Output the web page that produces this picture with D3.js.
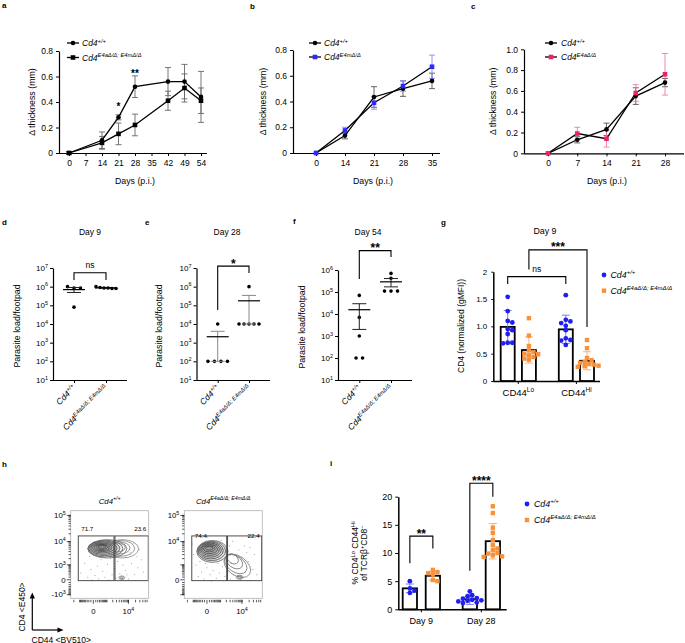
<!DOCTYPE html>
<html><head><meta charset="utf-8">
<script src="https://cdn.jsdelivr.net/npm/d3@7"></script>
<style>body{margin:0;background:#fff}</style>
</head><body>
<svg id="fig" width="685" height="643"></svg>
<script>
// ================= DATA =================
// Panel a
const aDays = ["0","7","14","21","28","35","42","49","54"];
const aMeasuredDays = ["0","14","21","28","42","49","54"];
const aWT = [0, 0.10, 0.28, 0.52, 0.56, 0.56, 0.44];
const aWTErr = [0.01, 0.065, 0.02, 0.085, 0.11, 0.135, 0.20];
const aKO = [0, 0.08, 0.15, 0.22, 0.41, 0.51, 0.41];
const aKOErr = [0.01, 0.05, 0.085, 0.085, 0.075, 0.11, 0.10];
const aYTicks = [0, 0.2, 0.4, 0.6, 0.8];
const aSig = [["21", 0.337, "*"], ["28", 0.60, "**"]];
// Panel b
const bDays = ["0","14","21","28","35"];
const bWT = [0, 0.135, 0.435, 0.50, 0.56];
const bWTErr = [0, 0.025, 0.08, 0.06, 0.06];
const bKO = [0, 0.175, 0.39, 0.52, 0.67];
const bKOErr = [0, 0.025, 0.05, 0.04, 0.09];
const bYTicks = [0, 0.2, 0.4, 0.6, 0.8];
// Panel c
const cDays = ["0","7","14","21","28"];
const cWT = [0, 0.13, 0.23, 0.55, 0.68];
const cWTErr = [0, 0.03, 0.06, 0.08, 0.04];
const cKO = [0, 0.19, 0.14, 0.58, 0.76];
const cKOErr = [0, 0.06, 0.08, 0.08, 0.20];
const cYTicks = [0, 0.2, 0.4, 0.6, 0.8, 1.0];
// Panels d-f (parasite load per footpad)
const dotGroups = ["WT", "KO"];
const dWT = [1.0e6, 8.5e5, 8.5e5, 8e4];
const dKO = [9e5, 8.5e5, 1.0e6, 8e5, 8.5e5, 8e5];
const dMean = [6.95e5, 8.67e5];
const dSem = [2.08e5, 3.3e4];
const eWT = [1e4, 1e2, 1e2, 1e2, 1e2];
const eKO = [1e6, 1e4, 1e4, 1e4, 1e4, 1e4];
const eMean = [2080, 175000];
const eSem = [1980, 165000];
const fWT = [7e4, 7e3, 1e3, 1e2, 1e2];
const fKO = [7e5, 4.2e5, 1.1e5, 1.1e5, 1.1e5];
const fMean = [15640, 290000];
const fSem = [13650, 118800];
const dYExp = [1,2,3,4,5,6,7];
const fYExp = [1,2,3,4,5,6];
// Panel g
const gGroups = ["CD44Lo", "CD44Hi"];
const gWTLo = [1.54, 1.28, 1.10, 1.07, 0.95, 0.93, 0.86, 0.70, 0.70, 0.69];
const gKOLo = [1.15, 0.83, 0.64, 0.56, 0.53, 0.50, 0.49, 0.47, 0.44, 0.41, 0.39];
const gWTHi = [1.57, 1.12, 1.09, 1.06, 1.01, 0.93, 0.78, 0.75, 0.74, 0.66];
const gKOHi = [0.75, 0.60, 0.42, 0.38, 0.35, 0.33, 0.31, 0.30, 0.28, 0.27, 0.26];
const gWTMean = [0.99, 0.945];
const gKOMean = [0.567, 0.37];
const gWTErr = [0.30, 0.26];
const gKOErr = [0.24, 0.165];
const gYTicks = [0, 0.5, 1, 1.5, 2];
const gYLabels = ["0", "0.5", "1.0", "1.5", "2"];
// Panel i
const iGroups = ["Day 9", "Day 28"];
const iWT9 = [5.0, 3.7, 3.3, 2.9];
const iKO9 = [7.0, 6.6, 6.4, 6.2, 5.2, 5.0];
const iWT28 = [3.2, 2.5, 2.3, 2.0, 1.9, 1.7, 1.6, 1.5, 1.4, 1.2, 1.1];
const iKO28 = [18.3, 17.1, 14.5, 13.6, 12.3, 11.4, 10.8, 10.5, 10.0, 9.9, 9.6, 9.4, 9.3];
const iWTMean = [3.72, 1.77];
const iKOMean = [5.96, 12.1];
const iWTErr = [0.77, 0.9];
const iKOErr = [0.8, 3.15];
const iYTicks = [0, 5, 10, 15, 20];
// Panel h (flow cytometry)
const hXDomain = [-2823, 69900];
const hYDomain = [-1508, 150700];
const hXMajor = [0, 1e4];
const hXLabels = [[["0"]], [["10"],["4","s"]]];
const hYMajorWT = [-1e3, 0, 1e3, 1e4, 1e5];
const hYLabelsWT = [[["-10"],["3","s"]], [["0"]], [["10"],["3","s"]], [["10"],["4","s"]], [["10"],["5","s"]]];
const hYMajorKO = [0, 1e4, 1e5];
const hYLabelsKO = [[["0"]], [["10"],["4","s"]], [["10"],["5","s"]]];
const hGatesWT = [[-1190, 2290, -30, 16600], [2550, 67000, -30, 16600]];
const hGatesKO = [[-1200, 2080, -30, 16600], [2285, 65800, -30, 16600]];
const hFreqWT = ["71.7", "23.6"];
const hFreqKO = ["74.4", "22.4"];
// contour levels in display-channel units (0-1): [cx, cy, rx, ry, angle, density]
const hContoursWT = [
  [0.40,0.585,0.05,0.015,0,1],[0.40,0.583,0.075,0.025,0,0.95],[0.40,0.58,0.10,0.035,0,0.9],
  [0.405,0.578,0.125,0.045,0,0.85],[0.41,0.575,0.15,0.057,0,0.8],[0.42,0.572,0.175,0.07,0,0.75],
  [0.43,0.57,0.20,0.083,0,0.7],[0.445,0.567,0.225,0.095,0,0.65],[0.47,0.565,0.25,0.105,0,0.55],
  [0.60,0.58,0.10,0.05,0,0.45],[0.62,0.575,0.14,0.07,0,0.4],[0.64,0.57,0.18,0.09,0,0.35],
  [0.66,0.565,0.21,0.105,0,0.3],[0.655,0.235,0.02,0.01,0,0.5],[0.655,0.235,0.038,0.02,0,0.4]
];
const hContoursKO = [
  [0.32,0.57,0.05,0.02,0,1],[0.32,0.565,0.075,0.035,0,0.95],[0.325,0.56,0.10,0.05,0,0.9],
  [0.33,0.555,0.12,0.065,0,0.85],[0.335,0.55,0.14,0.08,0,0.8],[0.34,0.545,0.16,0.095,0,0.75],
  [0.35,0.54,0.18,0.11,0,0.7],[0.36,0.535,0.20,0.125,0,0.6],
  [0.62,0.45,0.08,0.05,35,0.45],[0.64,0.42,0.12,0.07,35,0.4],[0.66,0.39,0.16,0.09,35,0.35],
  [0.68,0.37,0.19,0.11,35,0.3],[0.71,0.24,0.025,0.012,0,0.5],[0.71,0.24,0.045,0.022,0,0.4]
];
const hEventsWT = [[0.22,0.24],[0.27,0.21],[0.31,0.26],[0.36,0.22],[0.44,0.24],[0.49,0.21],[0.53,0.27],[0.26,0.33],[0.34,0.37],[0.41,0.31],[0.47,0.39],[0.56,0.34],[0.60,0.42],[0.63,0.28],[0.70,0.32],[0.74,0.22],[0.78,0.40],[0.82,0.27],[0.86,0.35],[0.91,0.44],[0.70,0.47],[0.76,0.52],[0.88,0.56],[0.18,0.40],[0.13,0.29],[0.58,0.23],[0.67,0.38],[0.81,0.63],[0.93,0.30],[0.39,0.44],[0.51,0.46],[0.24,0.48],[0.72,0.27],[0.85,0.48]];
const hEventsKO = [[0.18,0.25],[0.22,0.30],[0.25,0.22],[0.29,0.35],[0.33,0.27],[0.37,0.32],[0.41,0.23],[0.45,0.29],[0.49,0.36],[0.52,0.25],[0.15,0.38],[0.20,0.42],[0.27,0.40],[0.43,0.40],[0.56,0.31],[0.59,0.22],[0.63,0.27],[0.66,0.50],[0.70,0.55],[0.74,0.47],[0.78,0.30],[0.82,0.42],[0.85,0.20],[0.88,0.33],[0.90,0.50],[0.77,0.60],[0.84,0.58],[0.58,0.60],[0.62,0.65],[0.12,0.50],[0.10,0.62],[0.47,0.66],[0.54,0.70],[0.30,0.70],[0.72,0.21],[0.93,0.27],[0.35,0.20],[0.60,0.40],[0.80,0.52],[0.68,0.26]];

// labels
const L_WT = [["Cd4","i"],["+/+","si"]];
const L_KO_AM = [["Cd4","i"],["E4aΔ/Δ; E4mΔ/Δ","si"]];
const L_KO_M = [["Cd4","i"],["E4mΔ/Δ","si"]];
const L_KO_A = [["Cd4","i"],["E4aΔ/Δ","si"]];

// ================= DRAWING =================
const FF = '"Liberation Sans", Arial, Helvetica, sans-serif';
const svg = d3.select('#fig').attr('font-family', FF);
const BLUE = '#1f1ff2', BLUE_ERR = '#7c7cf2', ORANGE = '#f7913a', ORANGE_ERR = '#f6b27c';
const PINK = '#f0206c', PINK_ERR = '#f27aa6', BBLUE = '#2a2aff', BBLUE_ERR = '#8686ff';

function rich(t, parts, fs) {
  t.attr('font-size', fs).attr('fill', '#000');
  let shift = 0;
  parts.forEach(p => {
    const txt = p[0], f = p[1] || '';
    const sup = f.includes('s');
    const target = sup ? -fs * 0.4 : 0;
    const ts = t.append('tspan').attr('dy', (target - shift).toFixed(2)).text(txt);
    shift = target;
    if (sup) ts.attr('font-size', (fs * 0.68).toFixed(2));
    if (f.includes('i')) ts.attr('font-style', 'italic');
  });
  return t;
}
function text(g, x, y, parts, fs, anchor) {
  return rich(g.append('text').attr('x', x).attr('y', y).attr('text-anchor', anchor || 'start'), parts, fs);
}
function vtext(g, x, y, parts, fs) {
  return rich(g.append('text').attr('transform', `translate(${x},${y}) rotate(-90)`).attr('text-anchor', 'middle'), parts, fs);
}
function styleAxis(sel, fs, w) {
  sel.attr('font-family', FF).attr('font-size', fs || 8);
  sel.select('.domain').attr('stroke', '#000').attr('stroke-width', w || 1.2);
  sel.selectAll('.tick line').attr('stroke', '#000').attr('stroke-width', 1);
  sel.selectAll('.tick text').attr('fill', '#000');
}
function marker(g, shape, x, y, size, fill) {
  if (shape === 'circle') g.append('circle').attr('cx', x).attr('cy', y).attr('r', size / 2).attr('fill', fill);
  else g.append('rect').attr('x', x - size / 2).attr('y', y - size / 2).attr('width', size).attr('height', size).attr('fill', fill);
}
function sigText(g, x, yTop, label, fsStar) {
  if (label === 'ns') text(g, x, yTop - 5, [["ns"]], 8.5, 'middle');
  else text(g, x, yTop + 1.5, [[label]], fsStar || 12, 'middle').attr('font-weight', 'bold');
}
function bracket(g, x1, x2, yTop, yL, yR, label, fsStar) {
  g.append('path').attr('d', `M${x1},${yL}V${yTop}H${x2}V${yR}`).attr('fill', 'none').attr('stroke', '#000').attr('stroke-width', 1.1);
  sigText(g, (x1 + x2) / 2, yTop, label, fsStar);
}

// panel letters
[["a",2,8],["b",250,9],["c",471,9],["d",2,225],["e",145,225],["f",293,224],["g",441,225],["h",2,467],["i",330,466]]
  .forEach(([l, x, y]) => svg.append('text').attr('x', x).attr('y', y).attr('font-size', 8).attr('font-weight', 'bold').text(l));

// ---------- line charts ----------
function lineChart(c) {
  const g = svg.append('g');
  const x = d3.scalePoint().domain(c.cats).range(c.xr);
  const y = d3.scaleLinear().domain(c.yd).range(c.yr);
  const ya = g.append('g').attr('transform', `translate(${c.ax},0)`)
    .call(d3.axisLeft(y).tickValues(c.yt).tickFormat(d => d === 0 ? '0' : d.toFixed(1)).tickSize(3).tickSizeOuter(0).tickPadding(3));
  styleAxis(ya, 8.5);
  const xa = g.append('g').attr('transform', `translate(0,${c.yr[0]})`)
    .call(d3.axisBottom(x).tickSize(3).tickSizeOuter(0).tickPadding(4));
  styleAxis(xa, 8.5);
  xa.select('.domain').attr('d', `M${c.ax},0.5H${c.xe}`);
  vtext(g, c.ylx, (c.yr[0] + c.yr[1]) / 2, [["Δ thickness (mm)"]], 8.8);
  text(g, c.xlx, 183.5, [["Days (p.i.)"]], 8.8, 'middle');
  const pts = c.series.map(s => s.cats.map((k, i) => ({ x: x(k), y: y(s.v[i]), lo: y(s.v[i] - s.e[i]), hi: y(s.v[i] + s.e[i]) })));
  c.series.forEach((s, si) => {
    pts[si].forEach(p => {
      if (p.lo - p.hi < 0.8) return;
      g.append('path').attr('d', `M${p.x},${p.lo}V${p.hi}M${p.x - 3},${p.lo}h6M${p.x - 3},${p.hi}h6`)
        .attr('stroke', s.ec).attr('stroke-width', 0.9).attr('fill', 'none');
    });
  });
  c.series.forEach((s, si) => {
    g.append('path').datum(pts[si]).attr('d', d3.line().x(d => d.x).y(d => d.y))
      .attr('fill', 'none').attr('stroke', s.lc).attr('stroke-width', 1.3);
  });
  c.series.forEach((s, si) => pts[si].forEach(p => marker(g, s.shape, p.x, p.y, 4.6, s.mc)));
  c.series.forEach((s, si) => {
    const ly = c.leg.y[si];
    g.append('line').attr('x1', c.leg.x0).attr('x2', c.leg.x1).attr('y1', ly).attr('y2', ly).attr('stroke', s.lc).attr('stroke-width', 1.3);
    marker(g, s.shape, (c.leg.x0 + c.leg.x1) / 2, ly, 4.6, s.mc);
    text(g, c.leg.tx, ly + 3, s.label, 8.5);
  });
  (c.sig || []).forEach(([k, v, l]) => text(g, x(k), y(v), [[l]], 10, 'middle').attr('font-weight', 'bold'));
}

lineChart({
  cats: aDays, xr: [69, 201], ax: 59, xe: 207, yd: [0, 0.8], yr: [153, 51], yt: aYTicks, ylx: 35, xlx: 135,
  series: [
    { cats: aMeasuredDays, v: aWT, e: aWTErr, shape: 'circle', mc: '#000', lc: '#000', ec: '#666', label: L_WT },
    { cats: aMeasuredDays, v: aKO, e: aKOErr, shape: 'square', mc: '#000', lc: '#000', ec: '#666', label: L_KO_AM }
  ],
  leg: { x0: 67, x1: 79, tx: 82, y: [43, 57.5] }, sig: aSig
});
lineChart({
  cats: bDays, xr: [316, 432], ax: 293, xe: 440, yd: [0, 0.8], yr: [153, 50], yt: bYTicks, ylx: 266, xlx: 373,
  series: [
    { cats: bDays, v: bWT, e: bWTErr, shape: 'circle', mc: '#000', lc: '#000', ec: '#555', label: L_WT },
    { cats: bDays, v: bKO, e: bKOErr, shape: 'square', mc: BBLUE, lc: '#000', ec: BBLUE_ERR, label: L_KO_M }
  ],
  leg: { x0: 309, x1: 321, tx: 324, y: [43, 57] }
});
lineChart({
  cats: cDays, xr: [548, 665], ax: 524, xe: 684, yd: [0, 1.0], yr: [153.3, 49.3], yt: cYTicks, ylx: 496, xlx: 607,
  series: [
    { cats: cDays, v: cWT, e: cWTErr, shape: 'circle', mc: '#000', lc: '#000', ec: '#555', label: L_WT },
    { cats: cDays, v: cKO, e: cKOErr, shape: 'square', mc: PINK, lc: '#000', ec: PINK_ERR, label: L_KO_A }
  ],
  leg: { x0: 545, x1: 557, tx: 561, y: [43, 57] }
});

// ---------- log dot plots ----------
function clusterSpread(vals, yScale, cx, spacing, maxW) {
  const pts = vals.map((v, i) => ({ v, i, y: yScale(v) }));
  const sorted = [...pts].sort((a, b) => a.y - b.y || a.i - b.i);
  const groups = []; let cur = [];
  sorted.forEach(p => { if (cur.length && p.y - cur[cur.length - 1].y > 3.5) { groups.push(cur); cur = []; } cur.push(p); });
  if (cur.length) groups.push(cur);
  groups.forEach(gr => { const n = gr.length; const s = n > 1 ? Math.min(spacing, maxW / (n - 1)) : 0; gr.forEach((p, j) => p.x = cx + (j - (n - 1) / 2) * s); });
  return pts;
}
function logDots(c) {
  const g = svg.append('g');
  const x = d3.scalePoint().domain(dotGroups).range(c.xr);
  const y = d3.scaleLog().domain(c.yd).range(c.yr);
  const yt = c.exps.map(e => Math.pow(10, e));
  const ya = g.append('g').attr('transform', `translate(${c.ax},0)`)
    .call(d3.axisLeft(y).tickValues(yt).tickFormat(() => '').tickSize(3).tickSizeOuter(0));
  styleAxis(ya, 8);
  yt.forEach((v, i) => text(g, c.ax - 5, y(v) + 2.9, [["10"], [String(c.exps[i]), "s"]], 8, 'end'));
  const xa = g.append('g').attr('transform', `translate(0,${c.yr[0]})`)
    .call(d3.axisBottom(x).tickSize(3).tickSizeOuter(0).tickFormat(() => ''));
  styleAxis(xa, 8);
  xa.select('.domain').attr('d', `M${c.ax},0.5H${c.xe}`);
  vtext(g, c.ylx, (c.yr[0] + c.yr[1]) / 2 + 2, [["Parasite load/footpad"]], 8.8);
  text(g, c.tx, 235, [[c.title]], 8.5, 'middle');
  [L_WT, L_KO_AM].forEach((lab, i) => {
    rich(g.append('text').attr('text-anchor', 'end').attr('transform', `translate(${x(dotGroups[i]) + 2.5},${c.yr[0] + 8.5}) rotate(-45)`), lab, 8.5);
  });
  [c.wt, c.ko].forEach((vals, i) => {
    const cx = x(dotGroups[i]);
    clusterSpread(vals, y, cx, 6.5, 20).forEach(p => g.append('circle').attr('cx', p.x).attr('cy', p.y).attr('r', 1.8).attr('fill', '#000'));
    const m = y(c.mean[i]), hi = y(c.mean[i] + c.sem[i]), lo = y(c.mean[i] - c.sem[i]);
    g.append('path').attr('d', `M${cx},${lo}V${hi}M${cx - 7},${hi}h14M${cx - 7},${lo}h14`).attr('stroke', c.ec).attr('stroke-width', 1).attr('fill', 'none');
    g.append('line').attr('x1', cx - 11).attr('x2', cx + 11).attr('y1', m).attr('y2', m).attr('stroke', '#000').attr('stroke-width', 1.2);
  });
  const b = c.br;
  bracket(g, x("WT"), x("KO"), y(b[0]), y(b[1]), y(b[2]), c.sig);
}
logDots({ ax: 53, xe: 127, xr: [74, 106], yd: [10, 1e7], yr: [380, 268], exps: dYExp, wt: dWT, ko: dKO, mean: dMean, sem: dSem,
  ec: '#222', ylx: 19.5, tx: 90, title: 'Day 9', br: [5.6e6, 2.3e6, 2.3e6], sig: 'ns' });
logDots({ ax: 196.5, xe: 270, xr: [217.7, 249], yd: [10, 1e7], yr: [380, 268], exps: dYExp, wt: eWT, ko: eKO, mean: eMean, sem: eSem,
  ec: '#888', ylx: 162, tx: 227, title: 'Day 28', br: [1.26e7, 5.6e4, 5.4e6], sig: '*' });
logDots({ ax: 338, xe: 412, xr: [359.3, 391], yd: [10, 1e6], yr: [380, 270], exps: fYExp, wt: fWT, ko: fKO, mean: fMean, sem: fSem,
  ec: '#222', ylx: 304.5, tx: 368, title: 'Day 54', br: [7.6e6, 3.9e5, 3.9e6], sig: '**' });

// ---------- bar charts ----------
function swarm(vals, yScale, cx, d) {
  const pts = vals.map(v => ({ v, y: yScale(v) })).sort((a, b) => a.y - b.y);
  const placed = [];
  const offs = [0]; for (let k = 1; k < 30; k++) offs.push(k * d * 0.5, -k * d * 0.5);
  pts.forEach(p => {
    for (const o of offs) { if (placed.every(q => (q.x - o) ** 2 + (q.y - p.y) ** 2 >= d * d * 0.8)) { p.x = o; break; } }
    if (p.x === undefined) p.x = 0;
    placed.push(p);
  });
  return pts.map(p => ({ x: cx + p.x, y: p.y }));
}
function barChart(c) {
  const g = svg.append('g');
  const x0 = d3.scaleBand().domain(c.groups).range(c.xr).paddingInner(c.p0);
  const x1 = d3.scaleBand().domain(["WT", "KO"]).range([0, x0.bandwidth()]).paddingInner(c.p1);
  const y = d3.scaleLinear().domain(c.yd).range(c.yr);
  const ya = g.append('g').attr('transform', `translate(${c.ax},0)`)
    .call(d3.axisLeft(y).tickValues(c.yt).tickFormat((d, i) => c.yl[i]).tickSize(c.ts).tickSizeOuter(0).tickPadding(c.tp));
  styleAxis(ya, c.tfs, 1.5);
  const xa = g.append('g').attr('transform', `translate(0,${c.yr[0]})`)
    .call(d3.axisBottom(x0).tickSize(3).tickSizeOuter(0).tickFormat(() => ''));
  styleAxis(xa, 8, 1.5);
  xa.select('.domain').attr('d', `M${c.ax},0.5H${c.xe}`);
  c.groups.forEach((gr, i) => text(g, x0(gr) + x0.bandwidth() / 2, c.yr[0] + 14.5, c.glab[i], c.gfs, 'middle'));
  const ser = [
    { k: "WT", mean: c.wtMean, err: c.wtErr, pts: c.wtPts, col: BLUE, ecol: BLUE_ERR, shape: 'circle' },
    { k: "KO", mean: c.koMean, err: c.koErr, pts: c.koPts, col: ORANGE, ecol: ORANGE_ERR, shape: 'square' }
  ];
  const bw = x1.bandwidth();
  const bc = (gr, k) => x0(gr) + x1(k) + bw / 2;
  ser.forEach(s => c.groups.forEach((gr, i) => {
    g.append('rect').attr('x', x0(gr) + x1(s.k)).attr('y', y(s.mean[i])).attr('width', bw).attr('height', y(0) - y(s.mean[i]))
      .attr('fill', '#fff').attr('stroke', '#000').attr('stroke-width', 1.8);
  }));
  ser.forEach(s => c.groups.forEach((gr, i) => {
    const cx = bc(gr, s.k), hi = y(s.mean[i] + s.err[i]), lo = y(s.mean[i] - s.err[i]);
    g.append('path').attr('d', `M${cx},${lo}V${hi}M${cx - 4},${hi}h8M${cx - 4},${lo}h8`).attr('stroke', s.ecol).attr('stroke-width', 1).attr('fill', 'none');
  }));
  ser.forEach(s => c.groups.forEach((gr, i) => {
    swarm(s.pts[i], y, bc(gr, s.k), 4.6).forEach(p => marker(g, s.shape, p.x, p.y, s.shape === 'circle' ? 4.8 : 4.4, s.col));
  }));
  c.brackets.forEach(b => bracket(g, bc(c.groups[b[0]], b[1]), bc(c.groups[b[2]], b[3]), y(b[4]), y(b[5]), y(b[6]), b[7]));
  marker(g, 'circle', c.leg.x, c.leg.y[0], 4.8, BLUE);
  text(g, c.leg.tx, c.leg.y[0] + 3, L_WT, 8.8);
  marker(g, 'square', c.leg.x, c.leg.y[1], 4.4, ORANGE);
  text(g, c.leg.tx, c.leg.y[1] + 3, L_KO_AM, 8.8);
  return { g, y };
}
const gc = barChart({
  groups: gGroups, xr: [500.7, 594], p0: 0.394, p1: 0.34, yd: [0, 2], yr: [381, 271.7], ax: 493.3, xe: 600,
  yt: gYTicks, yl: gYLabels, ts: 2, tp: 4, tfs: 8, gfs: 9.5,
  glab: [[["CD44"], ["Lo", "s"]], [["CD44"], ["Hi", "s"]]],
  wtMean: gWTMean, wtErr: gWTErr, wtPts: [gWTLo, gWTHi], koMean: gKOMean, koErr: gKOErr, koPts: [gKOLo, gKOHi],
  brackets: [[0, "WT", 1, "WT", 1.91, 1.775, 1.775, 'ns'], [0, "KO", 1, "KO", 2.40, 2.04, 0.99, '***']],
  leg: { x: 604, tx: 610.5, y: [275, 290.7] }
});
vtext(gc.g, 463.5, 326, [["CD4 (normalized (gMFI))"]], 8.5);
text(gc.g, 545, 234, [["Day 9"]], 8.8, 'middle');

const ic = barChart({
  groups: iGroups, xr: [402.7, 500], p0: 0.378, p1: 0.378, yd: [0, 20], yr: [609.3, 496.7], ax: 398.3, xe: 506.7,
  yt: iYTicks, yl: iYTicks.map(String), ts: 3, tp: 3, tfs: 9, gfs: 9,
  glab: [[["Day 9"]], [["Day 28"]]],
  wtMean: iWTMean, wtErr: iWTErr, wtPts: [iWT9, iWT28], koMean: iKOMean, koErr: iKOErr, koPts: [iKO9, iKO28],
  brackets: [[0, "WT", 0, "KO", 13.0, 8.17, 10.8, '**'], [1, "WT", 1, "KO", 22.4, 6.86, 20.0, '****']],
  leg: { x: 527, tx: 534, y: [504, 520] }
});
vtext(ic.g, 358, 553, [["% CD4"], ["Lo", "s"], [" CD44"], ["Hi", "s"]], 8.5);
vtext(ic.g, 367, 553, [["of TCRβ"], ["+", "s"], ["CD8"], ["−", "s"]], 8.5);

// ---------- flow plots ----------
function flowMinor(dom) {
  const out = [];
  for (let n = 2; n <= 5; n++) for (let k = 1; k <= 9; k++) { const v = k * Math.pow(10, n); if (v < dom[1]) out.push(v); if (-v > dom[0]) out.push(-v); }
  return out;
}
function flowPlot(c) {
  const L = c.left, R = L + 78, T = 510.7, B = 598.3;
  const g = svg.append('g');
  const x = d3.scaleSymlog().constant(380).domain(hXDomain).range([L, R]);
  const y = d3.scaleSymlog().constant(380).domain(hYDomain).range([B, T]);
  const ux = d3.scaleLinear().domain([0, 1]).range([L, R]);
  const uy = d3.scaleLinear().domain([0, 1]).range([B, T]);
  const cid = 'clip' + c.id;
  svg.append('defs').append('clipPath').attr('id', cid).append('rect').attr('x', L).attr('y', T).attr('width', R - L).attr('height', B - T);
  const inner = g.append('g').attr('clip-path', `url(#${cid})`);
  inner.selectAll('circle').data(c.events).join('circle').attr('cx', d => ux(d[0])).attr('cy', d => uy(d[1])).attr('r', 0.5).attr('fill', '#8a8a8a');
  const shade = d3.scaleLinear().domain([0, 1]).range(['#a8a8a8', '#1e1e1e']);
  inner.selectAll('ellipse').data(c.contours).join('ellipse')
    .attr('cx', d => ux(d[0])).attr('cy', d => uy(d[1])).attr('rx', d => ux(d[2]) - ux(0)).attr('ry', d => uy(0) - uy(d[3]))
    .attr('transform', d => `rotate(${d[4]},${ux(d[0])},${uy(d[1])})`)
    .attr('fill', d => d[5] >= 0.6 ? '#555' : 'none').attr('fill-opacity', 0.1)
    .attr('stroke', d => shade(d[5])).attr('stroke-width', 0.75);
  c.gates.forEach(gt => {
    g.append('rect').attr('x', x(gt[0])).attr('y', y(gt[3])).attr('width', x(gt[1]) - x(gt[0])).attr('height', y(gt[2]) - y(gt[3]))
      .attr('fill', 'none').attr('stroke', '#3a3a3a').attr('stroke-width', 0.9);
  });
  text(g, x(c.gates[0][0]) + 3, y(c.gates[0][3]) + c.fy, [[c.freq[0]]], 6.2);
  text(g, x(c.gates[1][1]) - 2, y(c.gates[1][3]) + c.fy, [[c.freq[1]]], 6.2, 'end');
  g.append('rect').attr('x', L).attr('y', T).attr('width', R - L).attr('height', B - T).attr('fill', 'none').attr('stroke', '#b0b0b0').attr('stroke-width', 0.8);
  const tk = g.append('g').attr('stroke', '#111').attr('stroke-width', 0.7);
  flowMinor(hYDomain).forEach(v => tk.append('line').attr('x1', L - 2.2).attr('x2', L).attr('y1', y(v)).attr('y2', y(v)));
  hYMajorWT.forEach(v => tk.append('line').attr('x1', L - 4).attr('x2', L).attr('y1', y(v)).attr('y2', y(v)));
  flowMinor(hXDomain).forEach(v => tk.append('line').attr('x1', x(v)).attr('x2', x(v)).attr('y1', B + 1.5).attr('y2', B + 4));
  hXMajor.forEach(v => tk.append('line').attr('x1', x(v)).attr('x2', x(v)).attr('y1', B + 1.5).attr('y2', B + 5.5));
  c.yMajor.forEach((v, i) => text(g, L - 5, y(v) + 2.8, c.yLabels[i], 7.8, 'end'));
  hXMajor.forEach((v, i) => text(g, x(v), B + 15.5, hXLabels[i], 7.8, 'middle'));
  text(g, (L + R) / 2, 503.5, c.title, 7.8, 'middle');
}
flowPlot({ id: 'WT', left: 70.7, events: hEventsWT, contours: hContoursWT, gates: hGatesWT, freq: hFreqWT, fy: -4.5,
  yMajor: hYMajorWT, yLabels: hYLabelsWT, title: L_WT });
flowPlot({ id: 'KO', left: 184.3, events: hEventsKO, contours: hContoursKO, gates: hGatesKO, freq: hFreqKO, fy: 2,
  yMajor: hYMajorKO, yLabels: hYLabelsKO, title: L_KO_AM });
const arr = svg.append('g').attr('stroke', '#000').attr('stroke-width', 1.2).attr('fill', '#000');
arr.append('path').attr('d', 'M32.3,630V597');
arr.append('path').attr('d', 'M32.3,592.5l-2.6,6h5.2z').attr('stroke', 'none');
arr.append('path').attr('d', 'M32.3,630H59');
arr.append('path').attr('d', 'M63.5,630l-6,-2.6v5.2z').attr('stroke', 'none');
vtext(svg, 25, 607, [["CD4 <E450>"]], 8.5);
text(svg, 31.5, 642.5, [["CD44 <BV510>"]], 8.5);
</script>
</body></html>
